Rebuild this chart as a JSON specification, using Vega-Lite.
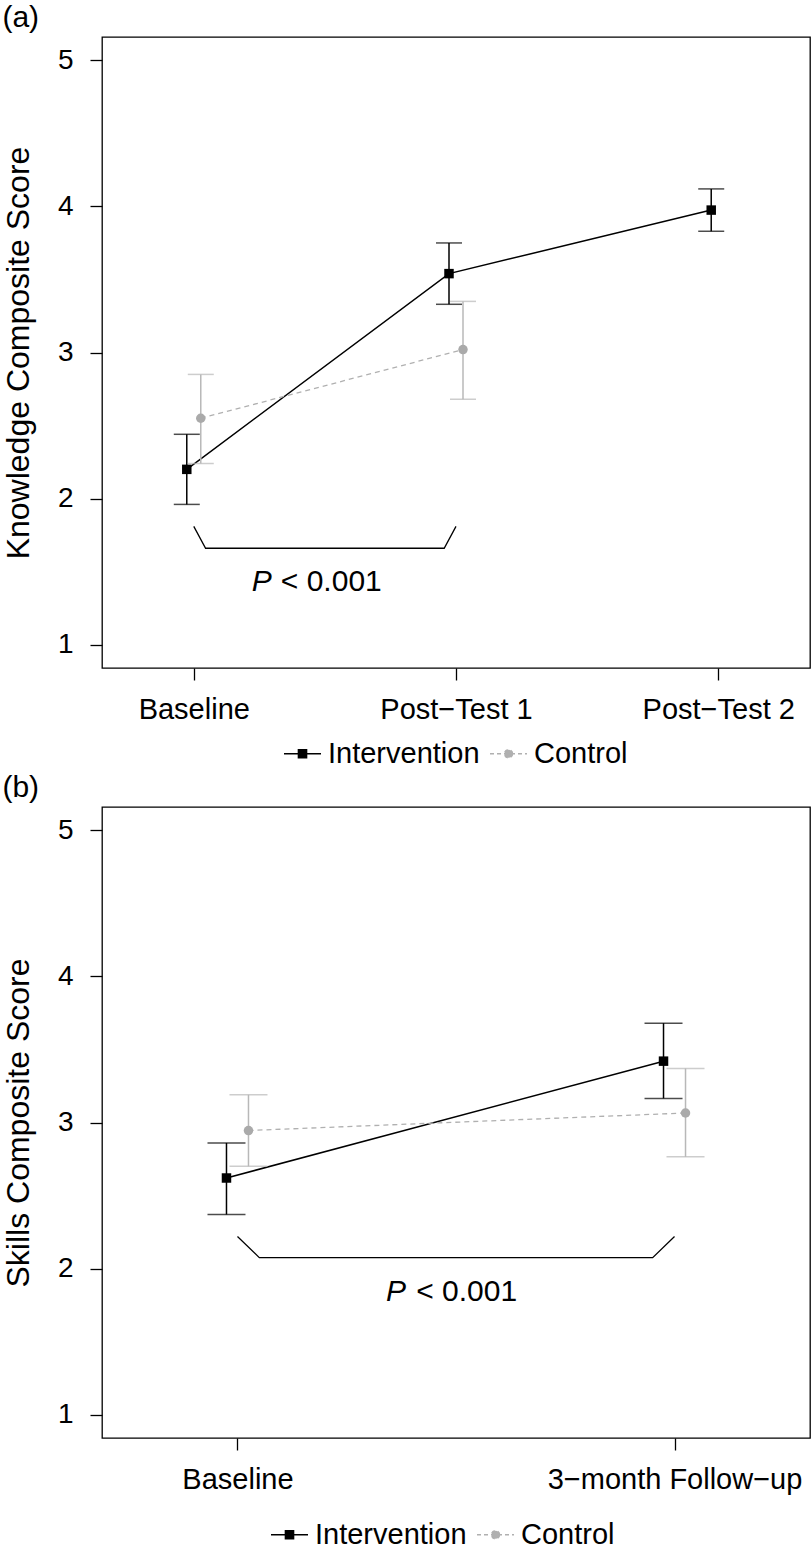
{
  "$schema": "https://vega.github.io/schema/vega-lite/v6.json",
  "padding": {"left": 1, "top": 2, "right": 0, "bottom": 0},
  "spacing": 2,
  "datasets": {
    "knowledge": [
      {"time": 1, "group": "Intervention", "mean": 2.20, "lo": 1.96, "hi": 2.44},
      {"time": 2, "group": "Intervention", "mean": 3.54, "lo": 3.33, "hi": 3.75},
      {"time": 3, "group": "Intervention", "mean": 3.975, "lo": 3.83, "hi": 4.12},
      {"time": 1, "group": "Control", "mean": 2.55, "lo": 2.24, "hi": 2.85},
      {"time": 2, "group": "Control", "mean": 3.02, "lo": 2.68, "hi": 3.35}
    ],
    "knowledgeBracket": [
      {"i": 1, "bx": 1.0, "by": 1.81},
      {"i": 2, "bx": 1.045, "by": 1.66},
      {"i": 3, "bx": 1.955, "by": 1.66},
      {"i": 4, "bx": 2.0, "by": 1.81}
    ],
    "knowledgeText": [
      {"tx": 1.221, "ty": 1.365, "p": "P", "rest": "< 0.001", "tx2": 1.332}
    ],
    "skills": [
      {"time": 1, "group": "Intervention", "mean": 2.62, "lo": 2.37, "hi": 2.86},
      {"time": 2, "group": "Intervention", "mean": 3.42, "lo": 3.165, "hi": 3.68},
      {"time": 1, "group": "Control", "mean": 2.945, "lo": 2.70, "hi": 3.19},
      {"time": 2, "group": "Control", "mean": 3.065, "lo": 2.765, "hi": 3.37}
    ],
    "skillsBracket": [
      {"i": 1, "bx": 1.0, "by": 2.22},
      {"i": 2, "bx": 1.05, "by": 2.075},
      {"i": 3, "bx": 1.95, "by": 2.075},
      {"i": 4, "bx": 2.0, "by": 2.22}
    ],
    "skillsText": [
      {"tx": 1.340, "ty": 1.776, "p": "P", "rest": "< 0.001", "tx2": 1.409}
    ]
  },
  "vconcat": [
    {
      "width": 708,
      "height": 631,
      "title": {"text": "(a)", "anchor": "start", "frame": "bounds", "fontSize": 30, "fontWeight": "normal", "color": "black", "offset": 4},
      "data": {"name": "knowledge"},
      "layer": [
        {
          "transform": [{"filter": "datum.group === 'Intervention'"}],
          "encoding": {
            "x": {"field": "time", "type": "quantitative", "scale": {"domain": [0.65, 3.35], "nice": false, "zero": false},
                  "axis": {"title": null, "values": [1, 2, 3], "labelExpr": "datum.value == 1 ? 'Baseline' : datum.value == 2 ? 'Post−Test 1' : 'Post−Test 2'", "labelFontSize": 29, "labelPadding": 15, "labelLimit": 400}}
          },
          "layer": [
            {"mark": {"type": "line", "strokeWidth": 1.5, "xOffset": -7, "color": "#000000"},
             "encoding": {"y": {"field": "mean", "type": "quantitative", "scale": {"domain": [0.84, 5.16], "nice": false, "zero": false},
                  "axis": {"title": "Knowledge Composite Score", "values": [1, 2, 3, 4, 5], "format": "d", "labelPadding": 17, "titlePadding": 22}}}},
            {"mark": {"type": "rule", "strokeWidth": 1.5, "xOffset": -7, "color": "#000000"},
             "encoding": {"y": {"field": "lo", "type": "quantitative"}, "y2": {"field": "hi"}}},
            {"mark": {"type": "tick", "orient": "horizontal", "size": 26, "thickness": 1.5, "xOffset": -7, "color": "#000000"},
             "encoding": {"y": {"field": "lo", "type": "quantitative"}}},
            {"mark": {"type": "tick", "orient": "horizontal", "size": 26, "thickness": 1.5, "xOffset": -7, "color": "#000000"},
             "encoding": {"y": {"field": "hi", "type": "quantitative"}}},
            {"mark": {"type": "point", "filled": true, "size": 90, "opacity": 1, "shape": "square", "xOffset": -7, "color": "#000000"},
             "encoding": {"y": {"field": "mean", "type": "quantitative"}}}
          ]
        },
        {
          "transform": [{"filter": "datum.group === 'Control'"}],
          "encoding": {
            "x": {"field": "time", "type": "quantitative"}
          },
          "layer": [
            {"mark": {"type": "line", "strokeWidth": 1.3, "strokeDash": [5, 4], "xOffset": 7, "color": "#b0b0b0"},
             "encoding": {"y": {"field": "mean", "type": "quantitative"}}},
            {"mark": {"type": "rule", "strokeWidth": 1.5, "xOffset": 7, "color": "#b8b8b8"},
             "encoding": {"y": {"field": "lo", "type": "quantitative"}, "y2": {"field": "hi"}}},
            {"mark": {"type": "tick", "orient": "horizontal", "size": 26, "thickness": 1.5, "xOffset": 7, "color": "#b8b8b8"},
             "encoding": {"y": {"field": "lo", "type": "quantitative"}}},
            {"mark": {"type": "tick", "orient": "horizontal", "size": 26, "thickness": 1.5, "xOffset": 7, "color": "#b8b8b8"},
             "encoding": {"y": {"field": "hi", "type": "quantitative"}}},
            {"mark": {"type": "point", "filled": true, "size": 90, "opacity": 1, "shape": "circle", "xOffset": 7, "color": "#aaaaaa"},
             "encoding": {"y": {"field": "mean", "type": "quantitative"}}}
          ]
        },
        {
          "transform": [{"filter": "false"}],
          "mark": {"type": "point", "filled": true, "opacity": 1, "strokeWidth": 1.5},
          "encoding": {
            "x": {"field": "time", "type": "quantitative"},
            "y": {"field": "mean", "type": "quantitative"},
            "shape": {"field": "group", "type": "nominal",
              "scale": {"domain": ["Intervention", "Control"], "range": ["M-1,0H1M-0.22,-0.22H0.22V0.22H-0.22Z", "M-1,0H1M0.22,0A0.22,0.22 0 1 1 -0.22,0A0.22,0.22 0 1 1 0.22,0Z"]},
              "legend": {"orient": "none", "legendX": 181, "legendY": 697, "direction": "horizontal", "title": null, "labelFontSize": 29, "labelColor": "black", "symbolSize": 1369, "symbolStrokeWidth": 1.5, "labelOffset": 6, "columnPadding": 7}},
            "fill": {"field": "group", "type": "nominal",
              "scale": {"domain": ["Intervention", "Control"], "range": ["#000000", "#b0b0b0"]},
              "legend": {"orient": "none", "legendX": 181, "legendY": 697, "direction": "horizontal", "title": null, "labelFontSize": 29, "labelColor": "black", "symbolSize": 1369, "symbolStrokeWidth": 1.5, "labelOffset": 6, "columnPadding": 7}},
            "stroke": {"field": "group", "type": "nominal",
              "scale": {"domain": ["Intervention", "Control"], "range": ["#000000", "#b0b0b0"]},
              "legend": {"orient": "none", "legendX": 181, "legendY": 697, "direction": "horizontal", "title": null, "labelFontSize": 29, "labelColor": "black", "symbolSize": 1369, "symbolStrokeWidth": 1.5, "labelOffset": 6, "columnPadding": 7}},
            "strokeDash": {"field": "group", "type": "nominal",
              "scale": {"domain": ["Intervention", "Control"], "range": [[1, 0], [4, 3]]},
              "legend": {"orient": "none", "legendX": 181, "legendY": 697, "direction": "horizontal", "title": null, "labelFontSize": 29, "labelColor": "black", "symbolSize": 1369, "symbolStrokeWidth": 1.5, "labelOffset": 6, "columnPadding": 7}}
          }
        },
        {
          "data": {"name": "knowledgeBracket"},
          "mark": {"type": "line", "color": "black", "strokeWidth": 1.3},
          "encoding": {
            "x": {"field": "bx", "type": "quantitative"},
            "y": {"field": "by", "type": "quantitative"},
            "order": {"field": "i", "type": "quantitative"}
          }
        },
        {
          "data": {"name": "knowledgeText"},
          "mark": {"type": "text", "fontSize": 30, "fontStyle": "italic", "align": "left", "baseline": "alphabetic", "color": "black"},
          "encoding": {
            "x": {"field": "tx", "type": "quantitative"},
            "y": {"field": "ty", "type": "quantitative"},
            "text": {"field": "p"}
          }
        },
        {
          "data": {"name": "knowledgeText"},
          "mark": {"type": "text", "fontSize": 30, "align": "left", "baseline": "alphabetic", "color": "black"},
          "encoding": {
            "x": {"field": "tx2", "type": "quantitative"},
            "y": {"field": "ty", "type": "quantitative"},
            "text": {"field": "rest"}
          }
        }
      ]
    },
    {
      "width": 708,
      "height": 631,
      "title": {"text": "(b)", "anchor": "start", "frame": "bounds", "fontSize": 30, "fontWeight": "normal", "color": "black", "offset": 4},
      "data": {"name": "skills"},
      "layer": [
        {
          "transform": [{"filter": "datum.group === 'Intervention'"}],
          "encoding": {
            "x": {"field": "time", "type": "quantitative", "scale": {"domain": [0.69, 2.31], "nice": false, "zero": false},
                  "axis": {"title": null, "values": [1, 2], "labelExpr": "datum.value == 1 ? 'Baseline' : '3−month Follow−up'", "labelFontSize": 29, "labelPadding": 15, "labelLimit": 400}}
          },
          "layer": [
            {"mark": {"type": "line", "strokeWidth": 1.5, "xOffset": -11, "color": "#000000"},
             "encoding": {"y": {"field": "mean", "type": "quantitative", "scale": {"domain": [0.84, 5.16], "nice": false, "zero": false},
                  "axis": {"title": "Skills Composite Score", "values": [1, 2, 3, 4, 5], "format": "d", "labelPadding": 17, "titlePadding": 22}}}},
            {"mark": {"type": "rule", "strokeWidth": 1.5, "xOffset": -11, "color": "#000000"},
             "encoding": {"y": {"field": "lo", "type": "quantitative"}, "y2": {"field": "hi"}}},
            {"mark": {"type": "tick", "orient": "horizontal", "size": 38, "thickness": 1.5, "xOffset": -11, "color": "#000000"},
             "encoding": {"y": {"field": "lo", "type": "quantitative"}}},
            {"mark": {"type": "tick", "orient": "horizontal", "size": 38, "thickness": 1.5, "xOffset": -11, "color": "#000000"},
             "encoding": {"y": {"field": "hi", "type": "quantitative"}}},
            {"mark": {"type": "point", "filled": true, "size": 90, "opacity": 1, "shape": "square", "xOffset": -11, "color": "#000000"},
             "encoding": {"y": {"field": "mean", "type": "quantitative"}}}
          ]
        },
        {
          "transform": [{"filter": "datum.group === 'Control'"}],
          "encoding": {
            "x": {"field": "time", "type": "quantitative"}
          },
          "layer": [
            {"mark": {"type": "line", "strokeWidth": 1.3, "strokeDash": [5, 4], "xOffset": 11, "color": "#b0b0b0"},
             "encoding": {"y": {"field": "mean", "type": "quantitative"}}},
            {"mark": {"type": "rule", "strokeWidth": 1.5, "xOffset": 11, "color": "#b8b8b8"},
             "encoding": {"y": {"field": "lo", "type": "quantitative"}, "y2": {"field": "hi"}}},
            {"mark": {"type": "tick", "orient": "horizontal", "size": 38, "thickness": 1.5, "xOffset": 11, "color": "#b8b8b8"},
             "encoding": {"y": {"field": "lo", "type": "quantitative"}}},
            {"mark": {"type": "tick", "orient": "horizontal", "size": 38, "thickness": 1.5, "xOffset": 11, "color": "#b8b8b8"},
             "encoding": {"y": {"field": "hi", "type": "quantitative"}}},
            {"mark": {"type": "point", "filled": true, "size": 90, "opacity": 1, "shape": "circle", "xOffset": 11, "color": "#aaaaaa"},
             "encoding": {"y": {"field": "mean", "type": "quantitative"}}}
          ]
        },
        {
          "transform": [{"filter": "false"}],
          "mark": {"type": "point", "filled": true, "opacity": 1, "strokeWidth": 1.5},
          "encoding": {
            "x": {"field": "time", "type": "quantitative"},
            "y": {"field": "mean", "type": "quantitative"},
            "shape": {"field": "group", "type": "nominal",
              "scale": {"domain": ["Intervention", "Control"], "range": ["M-1,0H1M-0.22,-0.22H0.22V0.22H-0.22Z", "M-1,0H1M0.22,0A0.22,0.22 0 1 1 -0.22,0A0.22,0.22 0 1 1 0.22,0Z"]},
              "legend": {"orient": "none", "legendX": 168, "legendY": 708, "direction": "horizontal", "title": null, "labelFontSize": 29, "labelColor": "black", "symbolSize": 1369, "symbolStrokeWidth": 1.5, "labelOffset": 6, "columnPadding": 7}},
            "fill": {"field": "group", "type": "nominal",
              "scale": {"domain": ["Intervention", "Control"], "range": ["#000000", "#b0b0b0"]},
              "legend": {"orient": "none", "legendX": 168, "legendY": 708, "direction": "horizontal", "title": null, "labelFontSize": 29, "labelColor": "black", "symbolSize": 1369, "symbolStrokeWidth": 1.5, "labelOffset": 6, "columnPadding": 7}},
            "stroke": {"field": "group", "type": "nominal",
              "scale": {"domain": ["Intervention", "Control"], "range": ["#000000", "#b0b0b0"]},
              "legend": {"orient": "none", "legendX": 168, "legendY": 708, "direction": "horizontal", "title": null, "labelFontSize": 29, "labelColor": "black", "symbolSize": 1369, "symbolStrokeWidth": 1.5, "labelOffset": 6, "columnPadding": 7}},
            "strokeDash": {"field": "group", "type": "nominal",
              "scale": {"domain": ["Intervention", "Control"], "range": [[1, 0], [4, 3]]},
              "legend": {"orient": "none", "legendX": 168, "legendY": 708, "direction": "horizontal", "title": null, "labelFontSize": 29, "labelColor": "black", "symbolSize": 1369, "symbolStrokeWidth": 1.5, "labelOffset": 6, "columnPadding": 7}}
          }
        },
        {
          "data": {"name": "skillsBracket"},
          "mark": {"type": "line", "color": "black", "strokeWidth": 1.3},
          "encoding": {
            "x": {"field": "bx", "type": "quantitative"},
            "y": {"field": "by", "type": "quantitative"},
            "order": {"field": "i", "type": "quantitative"}
          }
        },
        {
          "data": {"name": "skillsText"},
          "mark": {"type": "text", "fontSize": 30, "fontStyle": "italic", "align": "left", "baseline": "alphabetic", "color": "black"},
          "encoding": {
            "x": {"field": "tx", "type": "quantitative"},
            "y": {"field": "ty", "type": "quantitative"},
            "text": {"field": "p"}
          }
        },
        {
          "data": {"name": "skillsText"},
          "mark": {"type": "text", "fontSize": 30, "align": "left", "baseline": "alphabetic", "color": "black"},
          "encoding": {
            "x": {"field": "tx2", "type": "quantitative"},
            "y": {"field": "ty", "type": "quantitative"},
            "text": {"field": "rest"}
          }
        }
      ]
    }
  ],
  "resolve": {
    "scale": {"x": "independent", "y": "independent", "shape": "independent", "fill": "independent", "stroke": "independent", "strokeDash": "independent"},
    "legend": {"shape": "independent", "fill": "independent", "stroke": "independent", "strokeDash": "independent"},
    "axis": {"x": "independent", "y": "independent"}
  },
  "config": {
    "font": "Liberation Sans",
    "background": "white",
    "view": {"stroke": "black", "strokeWidth": 1.3},
    "axis": {"domain": false, "grid": false, "ticks": true, "tickSize": 12, "tickWidth": 1.3, "tickColor": "black",
             "labelColor": "black", "labelFontSize": 28, "titleFontSize": 32, "titleFontWeight": "normal", "titleColor": "black", "labelOverlap": false},
    "legend": {"labelColor": "black"},
    "title": {"color": "black"}
  }
}
